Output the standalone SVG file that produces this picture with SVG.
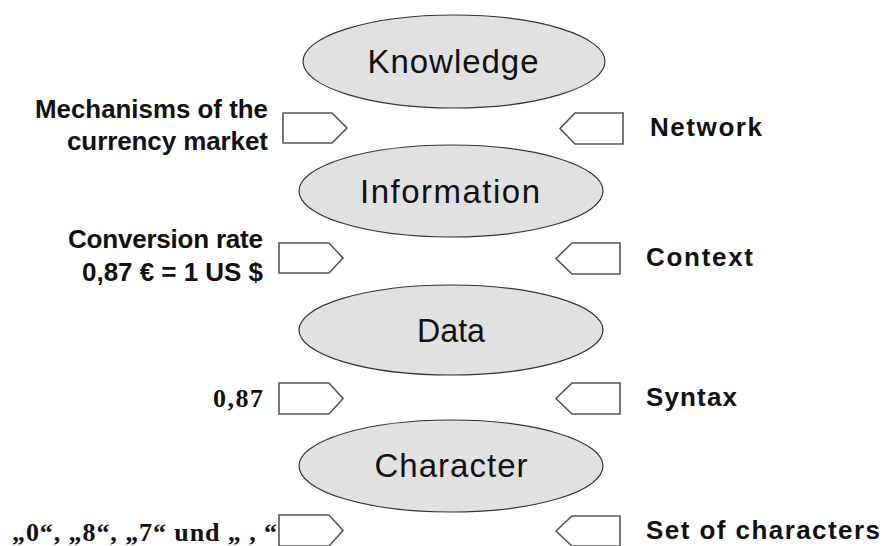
<svg xmlns="http://www.w3.org/2000/svg" width="883" height="546" viewBox="0 0 883 546">
  <style>
    .level ellipse { fill: #e1e1e1; stroke: #333333; stroke-width: 1.2; }
    .level text { font-family: "Liberation Sans", Arial, sans-serif; font-size: 33px; fill: #111111; text-anchor: middle; }
    .tag polygon { fill: #ffffff; stroke: #555555; stroke-width: 1.6; stroke-linejoin: miter; }
    .tag text { font-family: "Liberation Sans", Arial, sans-serif; font-size: 26px; font-weight: bold; fill: #111111; }
    .tag text.serif { font-family: "Liberation Serif", "Times New Roman", serif; }
  </style>

  <!-- hierarchy levels -->
  <g id="knowledge" class="level">
    <ellipse cx="454" cy="61.5" rx="151" ry="46.5"/>
    <text x="453" y="73" textLength="171" lengthAdjust="spacing">Knowledge</text>
  </g>
  <g id="information" class="level">
    <ellipse cx="451" cy="191" rx="152" ry="46"/>
    <text x="450" y="203" textLength="180" lengthAdjust="spacing">Information</text>
  </g>
  <g id="data" class="level">
    <ellipse cx="451" cy="330" rx="152" ry="45"/>
    <text x="451" y="342" textLength="68" lengthAdjust="spacingAndGlyphs">Data</text>
  </g>
  <g id="character" class="level">
    <ellipse cx="451" cy="466" rx="152" ry="46"/>
    <text x="451" y="477" textLength="153" lengthAdjust="spacing">Character</text>
  </g>

  <!-- pointer tags: examples on the left, building blocks on the right -->
  <g id="connectors">
    <g id="tag-mechanisms" class="tag">
      <polygon points="283,113 332,113 347,128 332,143 283,143"/>
      <text x="35" y="118" textLength="233" lengthAdjust="spacingAndGlyphs">Mechanisms of the</text>
      <text x="67" y="150" textLength="201" lengthAdjust="spacing">currency market</text>
    </g>
    <g id="tag-network" class="tag">
      <polygon points="623,113 575,113 560,128.5 575,144 623,144"/>
      <text x="650" y="136" textLength="112" lengthAdjust="spacing">Network</text>
    </g>

    <g id="tag-conversion" class="tag">
      <polygon points="279,243 329,243 343,258 329,273 279,273"/>
      <text x="68" y="248" textLength="195" lengthAdjust="spacing">Conversion rate</text>
      <text x="82" y="280.5" textLength="181" lengthAdjust="spacing">0,87 € = 1 US $</text>
    </g>
    <g id="tag-context" class="tag">
      <polygon points="620,243 572,243 556,258.5 572,274 620,274"/>
      <text x="646" y="266" textLength="107" lengthAdjust="spacing">Context</text>
    </g>

    <g id="tag-value" class="tag">
      <polygon points="279,383 329,383 343,398.5 329,414 279,414"/>
      <text class="serif" x="213" y="407" textLength="50" lengthAdjust="spacing">0,87</text>
    </g>
    <g id="tag-syntax" class="tag">
      <polygon points="620,383 572,383 556,398.5 572,414 620,414"/>
      <text x="646" y="406" textLength="91" lengthAdjust="spacing">Syntax</text>
    </g>

    <g id="tag-characters" class="tag">
      <polygon points="279,515 329,515 343,530.5 329,546 279,546"/>
      <text class="serif" x="12" y="541" textLength="265" lengthAdjust="spacing">„0“, „8“, „7“ und „ , “</text>
    </g>
    <g id="tag-charset" class="tag">
      <polygon points="620,516 572,516 556,531 572,546 620,546"/>
      <text x="646" y="539" textLength="234" lengthAdjust="spacing">Set of characters</text>
    </g>
  </g>
</svg>
